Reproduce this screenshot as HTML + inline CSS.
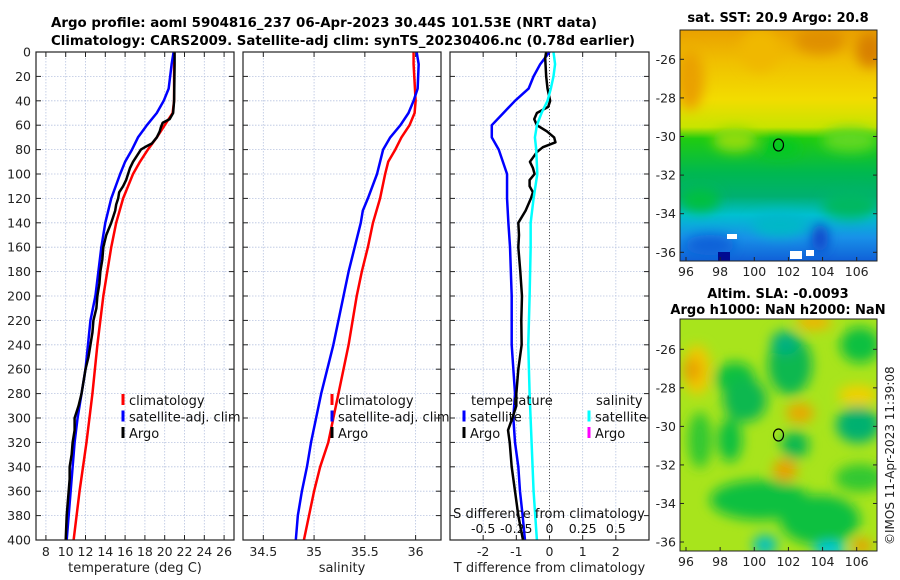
<!DOCTYPE html>
<html><head><meta charset="utf-8">
<style>
html,body{margin:0;padding:0;background:#fff;}
svg{display:block;font-family:"DejaVu Sans","Liberation Sans",sans-serif;}
</style></head>
<body>
<svg id="fig" width="900" height="580" viewBox="0 0 900 580" xmlns="http://www.w3.org/2000/svg">
<defs>
  <filter id="blur6" x="-50%" y="-50%" width="200%" height="200%"><feGaussianBlur stdDeviation="6"/></filter>
  <clipPath id="clipA"><rect x="680" y="30" width="197" height="231"/></clipPath>
  <clipPath id="clipB"><rect x="680" y="319" width="197" height="232"/></clipPath>
  <linearGradient id="sstGrad" x1="0" y1="0" x2="0" y2="1">
    <stop offset="0" stop-color="#eaa000"/>
    <stop offset="0.14" stop-color="#f0c000"/>
    <stop offset="0.3" stop-color="#f2dc00"/>
    <stop offset="0.42" stop-color="#c8e400"/>
    <stop offset="0.47" stop-color="#20cc10"/>
    <stop offset="0.62" stop-color="#00b850"/>
    <stop offset="0.72" stop-color="#00b070"/>
    <stop offset="0.8" stop-color="#00c0d0"/>
    <stop offset="0.9" stop-color="#1890e8"/>
    <stop offset="1" stop-color="#1060d8"/>
  </linearGradient>
</defs>
<g id="titles">
  <text x="51" y="27" font-size="13.5" font-weight="bold" textLength="546" lengthAdjust="spacingAndGlyphs">Argo profile: aoml 5904816_237 06-Apr-2023 30.44S 101.53E (NRT data)</text>
  <text x="51" y="45" font-size="13.5" font-weight="bold" textLength="584" lengthAdjust="spacingAndGlyphs">Climatology: CARS2009. Satellite-adj clim: synTS_20230406.nc (0.78d earlier)</text>
</g>
<g id="panels"></g>
<g id="maps">
  <g clip-path="url(#clipA)">
    <rect x="680" y="30" width="197" height="231" fill="url(#sstGrad)"/>
    <g filter="url(#blur6)">
      <ellipse cx="690" cy="80" rx="14" ry="30" fill="#eaa000"/>
      <ellipse cx="760" cy="50" rx="20" ry="22" fill="#f0b800"/>
      <ellipse cx="820" cy="40" rx="25" ry="14" fill="#e09000"/>
      <ellipse cx="870" cy="50" rx="14" ry="18" fill="#d88000"/>
      <ellipse cx="735" cy="140" rx="22" ry="12" fill="#90dc10"/>
      <ellipse cx="850" cy="140" rx="28" ry="12" fill="#60d820"/>
      <ellipse cx="780" cy="148" rx="20" ry="8" fill="#00c820"/>
      <ellipse cx="700" cy="200" rx="20" ry="12" fill="#00c040"/>
      <ellipse cx="850" cy="205" rx="28" ry="14" fill="#00b860"/>
      <ellipse cx="780" cy="225" rx="28" ry="12" fill="#00b8c8"/>
      <ellipse cx="710" cy="245" rx="25" ry="10" fill="#1060d8"/>
      <ellipse cx="820" cy="238" rx="8" ry="14" fill="#1040c8"/>
    </g>
    <rect x="727" y="234" width="10" height="5" fill="#fff"/>
    <rect x="790" y="251" width="12" height="8" fill="#fff"/>
    <rect x="806" y="250" width="8" height="6" fill="#fff"/>
    <rect x="718" y="252" width="12" height="9" fill="#000a90"/>
  </g>
  <rect x="680" y="30" width="197" height="231" fill="none" stroke="#222" stroke-width="1"/>
  <ellipse cx="778.5" cy="145" rx="5" ry="6" fill="none" stroke="#000" stroke-width="1.2"/>
  <text x="778" y="22" font-size="13" font-weight="bold" text-anchor="middle">sat. SST: 20.9 Argo: 20.8</text>

  <g clip-path="url(#clipB)">
    <rect x="680" y="319" width="197" height="232" fill="#a8e41c"/>
    <g filter="url(#blur6)">
      <ellipse cx="735" cy="378" rx="20" ry="16" fill="#10c040"/>
      <ellipse cx="790" cy="365" rx="22" ry="30" fill="#10b850"/>
      <ellipse cx="785" cy="343" rx="14" ry="12" fill="#00b080"/>
      <ellipse cx="860" cy="345" rx="20" ry="18" fill="#10c040"/>
      <ellipse cx="745" cy="400" rx="22" ry="22" fill="#10b850"/>
      <ellipse cx="730" cy="440" rx="12" ry="22" fill="#10c040"/>
      <ellipse cx="700" cy="440" rx="12" ry="28" fill="#30c830"/>
      <ellipse cx="858" cy="425" rx="22" ry="18" fill="#00b070"/>
      <ellipse cx="795" cy="445" rx="14" ry="14" fill="#10b850"/>
      <ellipse cx="760" cy="500" rx="50" ry="20" fill="#10c040"/>
      <ellipse cx="820" cy="520" rx="40" ry="25" fill="#10c040"/>
      <ellipse cx="860" cy="478" rx="25" ry="14" fill="#30c830"/>
      <ellipse cx="697" cy="370" rx="14" ry="25" fill="#f0c800"/>
      <ellipse cx="692" cy="370" rx="9" ry="12" fill="#e8a000"/>
      <ellipse cx="800" cy="413" rx="14" ry="10" fill="#e8a800"/>
      <ellipse cx="785" cy="470" rx="12" ry="11" fill="#e8a000"/>
      <ellipse cx="814" cy="322" rx="18" ry="8" fill="#f0b400"/>
      <ellipse cx="858" cy="395" rx="20" ry="10" fill="#f0d000"/>
      <ellipse cx="765" cy="545" rx="12" ry="10" fill="#00c0c0"/>
      <ellipse cx="830" cy="550" rx="16" ry="8" fill="#00c8e0"/>
      <ellipse cx="862" cy="546" rx="10" ry="8" fill="#e8a000"/>
    </g>
  </g>
  <rect x="680" y="319" width="197" height="232" fill="none" stroke="#222" stroke-width="1"/>
  <ellipse cx="778.5" cy="435" rx="5" ry="6" fill="none" stroke="#000" stroke-width="1.2"/>
  <text x="778" y="298" font-size="13" font-weight="bold" text-anchor="middle">Altim. SLA: -0.0093</text>
  <text x="778" y="314" font-size="13" font-weight="bold" text-anchor="middle">Argo h1000: NaN h2000: NaN</text>
  <text transform="translate(894,545) rotate(-90)" font-size="12" fill="#222">©IMOS 11-Apr-2023 11:39:08</text>
  <g id="mapticks"></g>
</g>
</svg>
<script>
// ---------- data ----------
const depthTicks = [0,20,40,60,80,100,120,140,160,180,200,220,240,260,280,300,320,340,360,380,400];
const tempTicks = [8,10,12,14,16,18,20,22,24,26];
const salTicks = [34.5,35,35.5,36];
const salTickLabels = ["34.5","35","35.5","36"];
const dTTicks = [-2,-1,0,1,2];
const dSTickLabels = ["-0.5","-0.25","0","0.25","0.5"];
const dSTicks = [-0.5,-0.25,0,0.25,0.5];

const climDepth = [0,10,20,40,50,55,60,70,80,90,100,110,120,140,160,180,200,240,280,320,360,400];
const climTemp  = [20.95,20.95,20.95,20.95,20.8,20.4,20.0,19.2,18.3,17.5,16.8,16.3,15.8,15.1,14.6,14.2,13.8,13.2,12.7,12.1,11.4,10.8];
const satDepth  = [0,10,30,40,50,60,70,80,90,100,120,140,160,180,200,220,260,280,300,320,360,400];
const satTemp   = [20.9,20.7,20.4,19.9,19.2,18.2,17.3,16.7,16.0,15.5,14.6,14.0,13.6,13.3,13.0,12.5,12.0,11.6,11.2,10.9,10.5,10.1];
const argoDepth = [0,10,40,50,55,58,62,65,70,75,78,80,85,90,95,100,105,110,115,120,125,130,135,140,150,160,170,180,190,200,210,220,230,240,250,260,270,280,290,300,310,320,330,340,350,360,380,400];
const argoTemp  = [21.0,21.0,20.95,20.85,20.5,19.8,19.6,19.5,19.2,18.7,18.0,17.6,17.2,16.8,16.5,16.3,16.1,15.8,15.4,15.3,15.1,15.0,14.8,14.6,14.1,13.8,13.7,13.5,13.4,13.2,13.1,12.8,12.7,12.5,12.3,12.0,11.8,11.6,11.3,10.9,10.9,10.7,10.6,10.4,10.4,10.3,10.1,10.0];

const climSalDepth = [0,10,40,50,60,70,80,90,100,120,140,160,180,200,240,280,300,320,340,360,380,400];
const climSal      = [35.98,35.98,36.0,35.99,35.94,35.86,35.80,35.73,35.70,35.65,35.58,35.53,35.47,35.42,35.34,35.24,35.19,35.14,35.06,35.0,34.95,34.90];
const satSalDepth  = [0,10,30,40,50,60,70,80,100,120,130,140,160,180,200,220,240,260,280,300,320,340,360,380,400];
const satSal       = [36.01,36.03,36.02,35.98,35.93,35.85,35.75,35.68,35.62,35.53,35.48,35.46,35.40,35.34,35.29,35.24,35.19,35.13,35.07,35.02,34.97,34.93,34.88,34.84,34.82];

const dTSatDepth = [0,10,20,30,40,50,60,70,80,100,120,140,160,200,240,260,280,300,320,340,360,380,400];
const dTSat      = [0,-0.28,-0.48,-0.63,-1.04,-1.39,-1.74,-1.74,-1.53,-1.28,-1.28,-1.24,-1.19,-1.14,-1.14,-1.09,-1.04,-1.09,-1.04,-0.94,-0.89,-0.81,-0.74];
const dTArgoDepth = [0,5,20,30,40,45,50,55,60,65,70,74,78,82,90,95,100,105,110,115,120,130,140,150,160,180,200,220,240,260,280,290,300,310,320,340,360,380,400];
const dTArgo      = [-0.1,-0.13,-0.1,-0.06,0.02,-0.04,-0.38,-0.46,-0.38,-0.08,0.14,0.18,-0.2,-0.38,-0.59,-0.5,-0.45,-0.6,-0.6,-0.5,-0.56,-0.72,-0.94,-0.92,-0.94,-0.88,-0.83,-0.85,-0.84,-0.94,-1.0,-1.0,-1.12,-1.25,-1.2,-1.14,-1.04,-0.94,-0.8];
const dSSatDepth = [0,10,20,30,40,50,60,70,80,100,120,140,160,200,240,280,320,360,400];
const dSSat      = [0.03,0.042,0.03,0.01,-0.015,-0.06,-0.095,-0.11,-0.1,-0.092,-0.12,-0.142,-0.142,-0.15,-0.16,-0.15,-0.135,-0.12,-0.095];

const lonTicks = [96,98,100,102,104,106];
const latTicks = [-26,-28,-30,-32,-34,-36];

// ---------- helpers ----------
const NS = "http://www.w3.org/2000/svg";
const root = document.getElementById('panels');
function mk(tag, attrs, parent){ const e=document.createElementNS(NS,tag); for(const k in attrs) e.setAttribute(k,attrs[k]); (parent||root).appendChild(e); return e; }
const yTop=52, yBot=540;
function yD(d){ return yTop + (d/400)*(yBot-yTop); }
function lin(d0,d1,r0,r1){ return v => r0 + (v-d0)/(d1-d0)*(r1-r0); }

function panel(name, x0, x1, xs, xticks, xlabels, xtitle, showY){
  const g = mk('g',{});
  
  
  depthTicks.forEach(d=>{
    const l=mk('line',{x1:x0,x2:x1,y1:yD(d),y2:yD(d),stroke:'#b8c4e0','stroke-width':0.8,'stroke-dasharray':'1.5,1.5'},g);
     
    mk('line',{x1:x0,x2:x0+5,y1:yD(d),y2:yD(d),stroke:'#222'},g);
    mk('line',{x1:x1-5,x2:x1,y1:yD(d),y2:yD(d),stroke:'#222'},g);
  });
  xticks.forEach((t,i)=>{
    const x=xs(t);
    const l=mk('line',{x1:x,x2:x,y1:yTop,y2:yBot,stroke:'#b8c4e0','stroke-width':0.8,'stroke-dasharray':'1.5,1.5'},g);
     
    mk('line',{x1:x,x2:x,y1:yBot,y2:yBot-5,stroke:'#222'},g);
    mk('line',{x1:x,x2:x,y1:yTop,y2:yTop+5,stroke:'#222'},g);
    const tx=mk('text',{x:x,y:yBot+16,'font-size':12.5,'text-anchor':'middle',fill:'#222'},g);
    tx.textContent=xlabels[i];
     
  });
  if(showY){
    depthTicks.forEach(d=>{
      const tx=mk('text',{x:x0-5,y:yD(d)+4.5,'font-size':12.5,'text-anchor':'end',fill:'#222'},g);
      tx.textContent=d;
       
    });
  }
  const t=mk('text',{x:(x0+x1)/2,y:572,'font-size':13,'text-anchor':'middle',fill:'#222'},g);
  t.textContent=xtitle;
   
  return g;
}
function frame(g,x0,x1){
  const r=mk('rect',{x:x0,y:yTop,width:x1-x0,height:yBot-yTop,fill:'none',stroke:'#222','stroke-width':1.2},g);
   
}
function series(g, name, xs, vals, depths, color, w){
  const pts = vals.map((v,i)=> xs(v).toFixed(2)+','+yD(depths[i]).toFixed(2)).join(' ');
  const p = mk('polyline',{points:pts,fill:'none',stroke:color,'stroke-width':w||2.5,'stroke-linejoin':'round'},g);
  
  
}
function legendEntry(g, name, x, y, color, label){
  const m=mk('rect',{x:x-1.5,y:y-6,width:3,height:11,fill:color},g);
  
  
  const t=mk('text',{x:x+6,y:y+5,'font-size':13,fill:'#111'},g);
  t.textContent=label;
  
  
}
const L1=400, L2=416.5, L3=433;

const xT = lin(7,27,36,234);
const g1 = panel('temperature',36,234,xT,tempTicks,tempTicks.map(String),'temperature (deg C)',true);
series(g1,'climatology-temp-line',xT,climTemp,climDepth,'#ff0000');
series(g1,'satellite-temp-line',xT,satTemp,satDepth,'#0000ff');
series(g1,'argo-temp-line',xT,argoTemp,argoDepth,'#000000');
frame(g1,36,234);
legendEntry(g1,'legend-climatology',123,L1,'#ff0000','climatology');
legendEntry(g1,'legend-satellite-adj-clim',123,L2,'#0000ff','satellite-adj. clim');
legendEntry(g1,'legend-argo',123,L3,'#000000','Argo');

const xS = lin(34.3,36.25,243,441);
const g2 = panel('salinity',243,441,xS,salTicks,salTickLabels,'salinity',false);
series(g2,'climatology-salinity-line',xS,climSal,climSalDepth,'#ff0000');
series(g2,'satellite-salinity-line',xS,satSal,satSalDepth,'#0000ff');
frame(g2,243,441);
legendEntry(g2,'legend-climatology-sal',332,L1,'#ff0000','climatology');
legendEntry(g2,'legend-satellite-adj-clim-sal',332,L2,'#0000ff','satellite-adj. clim');
legendEntry(g2,'legend-argo-sal',332,L3,'#000000','Argo');

const xDT = lin(-3,3,450,649);
const xDS = v => xDT(v*4);
const g3 = panel('difference',450,649,xDT,dTTicks,dTTicks.map(String),'T difference from climatology',false);
const z=mk('line',{x1:xDT(0),x2:xDT(0),y1:yTop,y2:yBot,stroke:'#555','stroke-width':1,'stroke-dasharray':'1,2'},g3);
 
series(g3,'satellite-temp-diff-line',xDT,dTSat,dTSatDepth,'#0000ff');
series(g3,'argo-temp-diff-line',xDT,dTArgo,dTArgoDepth,'#000000');
series(g3,'satellite-sal-diff-line',xDS,dSSat,dSSatDepth,'#00ffff');
frame(g3,450,649);
{
  const t=mk('text',{x:471,y:L1+5,'font-size':13,fill:'#111'},g3); t.textContent='temperature';
   
  const s=mk('text',{x:596,y:L1+5,'font-size':13,fill:'#111'},g3); s.textContent='salinity';
   
}
legendEntry(g3,'legend-temp-satellite',464,L2,'#0000ff','satellite');
legendEntry(g3,'legend-temp-argo',464,L3,'#000000','Argo');
legendEntry(g3,'legend-sal-satellite',589,L2,'#00ffff','satellite');
legendEntry(g3,'legend-sal-argo',589,L3,'#ff00ff','Argo');
{
  const t=mk('text',{x:549,y:518,'font-size':13,'text-anchor':'middle',fill:'#111'},g3);
  t.textContent='S difference from climatology';
   
  dSTicks.forEach((v,i)=>{
    const tx=mk('text',{x:xDS(v),y:533,'font-size':12.5,'text-anchor':'middle',fill:'#111'},g3);
    tx.textContent=dSTickLabels[i];
     
  });
}

const mt=document.getElementById('mapticks');
const lonX = lin(96,106,686,856.7);
function mapTicks(yTopM,yBotM,latY){
  lonTicks.forEach(l=>{
    const x=lonX(l);
    mk('line',{x1:x,x2:x,y1:yBotM,y2:yBotM-4,stroke:'#222'},mt);
    const t=mk('text',{x:x,y:yBotM+15,'font-size':12.5,'text-anchor':'middle',fill:'#222'},mt);
    t.textContent=l;
     
  });
  latTicks.forEach(l=>{
    const y=latY(l);
    mk('line',{x1:680,x2:684,y1:y,y2:y,stroke:'#222'},mt);
    mk('line',{x1:873,x2:877,y1:y,y2:y,stroke:'#222'},mt);
    const t=mk('text',{x:676,y:y+4.5,'font-size':12.5,'text-anchor':'end',fill:'#222'},mt);
    t.textContent=l;
     
  });
}
mapTicks(30,261,lin(-26,-36,59.3,252.3));
mapTicks(319,551,lin(-26,-36,349.3,542));
</script>
</body></html>
